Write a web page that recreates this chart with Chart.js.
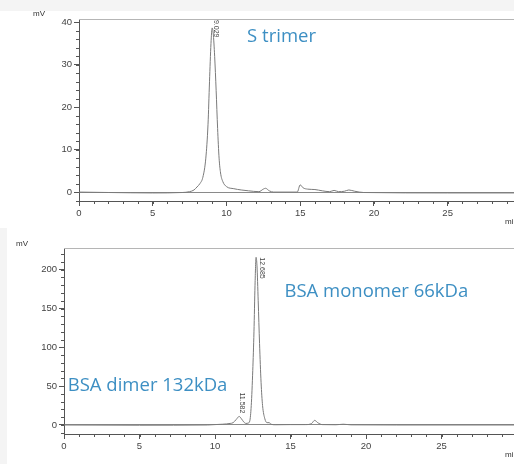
<!DOCTYPE html>
<html>
<head>
<meta charset="utf-8">
<script src="https://cdn.jsdelivr.net/npm/chart.js@4.4.1/dist/chart.umd.min.js"></script>
<style>
  html, body { margin: 0; padding: 0; background: #fff; }
  #wrap { position: relative; width: 514px; height: 464px; overflow: hidden; background: #fff; }
  #topStrip { position: absolute; left: 0; top: 0; width: 514px; height: 11px; background: #f4f4f4; }
  #leftStrip { position: absolute; left: 0; top: 228px; width: 7px; height: 236px; background: #f4f4f4; }
  canvas { position: absolute; left: 0; }
  #c1 { top: 0; }
  #c2 { top: 232px; }
</style>
</head>
<body>
<div id="wrap">
  <div id="topStrip"></div>
  <div id="leftStrip"></div>
  <canvas id="c1" width="514" height="232"></canvas>
  <canvas id="c2" width="514" height="232"></canvas>
</div>
<script>
// S trimer run (min, mV)
const trimerTime = [0, 2, 5, 7, 7.5, 7.8, 8.0, 8.2, 8.4, 8.6, 8.75, 8.85, 8.95, 9.03, 9.1, 9.2, 9.3, 9.4, 9.5, 9.6, 9.75, 10.0, 10.5, 11.0, 11.5, 12.2, 12.5, 12.65, 12.9, 13.2, 14.8, 15.0, 15.2, 15.5, 16.0, 16.5, 17.0, 17.3, 17.6, 18.0, 18.3, 18.7, 19.3, 25, 29.5];
const trimerSignal = [0, -0.1, -0.2, -0.1, 0.1, 0.5, 1.2, 2.0, 3.5, 8, 16, 26, 35, 38.7, 37.5, 32, 24, 15, 8, 4.5, 2.5, 1.3, 0.8, 0.5, 0.3, 0.1, 0.7, 0.9, 0.3, 0, 0, 1.7, 1.0, 0.7, 0.6, 0.3, 0.1, 0.4, 0.1, 0.2, 0.5, 0.2, -0.1, -0.2, -0.2];

// BSA run (min, mV)
const bsaTime = [0, 5, 9.5, 10.0, 10.5, 11.0, 11.2, 11.4, 11.6, 11.75, 11.9, 12.05, 12.2, 12.3, 12.4, 12.5, 12.58, 12.65, 12.72, 12.78, 12.86, 12.95, 13.05, 13.15, 13.3, 13.45, 13.6, 13.7, 14.0, 15.0, 16.0, 16.4, 16.6, 16.8, 17.1, 18.0, 18.5, 19.0, 22, 29.8];
const bsaSignal = [0, -0.3, 0, 0.5, 1.0, 2.0, 3, 7, 11, 8, 4, 2, 2.5, 5, 25, 70, 120, 180, 216, 205, 160, 105, 55, 25, 8, 3, 3, 1, 0.3, 0.5, 0.5, 2, 6, 3, 0.5, 0.3, 1, 0.2, 0, 0];

const trimerYTicks = [0, 10, 20, 30, 40];
const bsaYTicks = [0, 50, 100, 150, 200];
const xTicks = [0, 5, 10, 15, 20, 25];

const trimerPeaks = [{ t: 9.029, v: 38.7, text: '9.029', dx: 4, dy: -8 }];
const bsaPeaks = [
  { t: 11.582, v: 11, text: '11.582', dx: 3, dy: -24 },
  { t: 12.685, v: 216, text: '12.685', dx: 6, dy: 0 }
];
const trimerNotes = [{ t: 11.4, v: 36.6, text: 'S trimer' }];
const bsaNotes = [
  { t: 14.6, v: 172, text: 'BSA monomer 66kDa' },
  { t: 0.25, v: 51, text: 'BSA dimer 132kDa' }
];

const noteColor = '#3d8fc3';
const axisColor = '#555';

const extras = {
  id: 'extras',
  afterDraw(chart, args, o) {
    const { ctx, chartArea: a, scales: { x, y } } = chart;
    ctx.save();
    // top frame line
    ctx.strokeStyle = '#b5b5b5';
    ctx.lineWidth = 1;
    ctx.beginPath();
    ctx.moveTo(a.left, a.top + 0.5);
    ctx.lineTo(a.right, a.top + 0.5);
    ctx.stroke();
    // minor ticks
    ctx.strokeStyle = axisColor;
    ctx.beginPath();
    for (let t = 0; t <= x.max; t += o.minorX) {
      const px = Math.round(x.getPixelForValue(t)) + 0.5;
      ctx.moveTo(px, a.bottom);
      ctx.lineTo(px, a.bottom + 3);
    }
    for (let v = Math.ceil(y.min / o.minorY) * o.minorY; v <= y.max; v += o.minorY) {
      const py = Math.round(y.getPixelForValue(v)) + 0.5;
      ctx.moveTo(a.left, py);
      ctx.lineTo(a.left - 3, py);
    }
    ctx.stroke();
    // unit labels
    ctx.fillStyle = '#333';
    ctx.font = '8px "Liberation Sans", Arial, sans-serif';
    ctx.textBaseline = 'middle';
    ctx.textAlign = 'left';
    ctx.fillText('mV', o.mvX, o.mvY);
    ctx.fillText('min', 505, a.bottom + 21);
    // peak retention time labels
    ctx.font = '7px "Liberation Sans", Arial, sans-serif';
    ctx.fillStyle = '#444';
    o.peaks.forEach(p => {
      ctx.save();
      ctx.translate(x.getPixelForValue(p.t) + p.dx, y.getPixelForValue(p.v) + p.dy);
      ctx.rotate(Math.PI / 2);
      ctx.fillText(p.text, 0, 0);
      ctx.restore();
    });
    // annotations
    ctx.font = '18.5px "Open Sans", sans-serif';
    ctx.fillStyle = noteColor;
    o.notes.forEach(n => {
      ctx.fillText(n.text, x.getPixelForValue(n.t), y.getPixelForValue(n.v));
    });
    ctx.restore();
  }
};

function makeChart(id, times, values, cfg) {
  return new Chart(document.getElementById(id), {
    type: 'line',
    data: {
      datasets: [{
        data: times.map((t, i) => ({ x: t, y: values[i] })),
        borderColor: '#7a7a7a',
        borderWidth: 1,
        pointRadius: 0,
        cubicInterpolationMode: 'monotone',
        fill: false
      }]
    },
    options: {
      responsive: false,
      animation: false,
      layout: { padding: { top: cfg.top, right: 0, left: 0, bottom: 0 } },
      plugins: {
        legend: { display: false },
        tooltip: { enabled: false },
        extras: cfg.extras
      },
      scales: {
        x: {
          type: 'linear',
          min: 0,
          max: cfg.xMax,
          afterFit: s => { s.height = cfg.xHeight; },
          afterBuildTicks: s => { s.ticks = xTicks.map(v => ({ value: v })); },
          border: { color: axisColor, width: 1 },
          grid: { drawOnChartArea: false, tickLength: 5, tickColor: axisColor },
          ticks: {
            color: '#444',
            padding: 2,
            maxRotation: 0,
            font: { family: '"Liberation Sans", Arial, sans-serif', size: 9.5 }
          }
        },
        y: {
          min: cfg.yMin,
          max: cfg.yMax,
          afterFit: s => { s.width = cfg.yWidth; },
          afterBuildTicks: s => { s.ticks = cfg.yTicks.map(v => ({ value: v })); },
          border: { color: axisColor, width: 1 },
          grid: {
            color: c => (c.tick && c.tick.value === 0 ? '#8a8a8a' : 'rgba(0,0,0,0)'),
            tickLength: 5,
            tickColor: axisColor
          },
          ticks: {
            color: '#444',
            padding: 2,
            font: { family: '"Liberation Sans", Arial, sans-serif', size: 9.5 }
          }
        }
      }
    },
    plugins: [extras]
  });
}

makeChart('c1', trimerTime, trimerSignal, {
  top: 19, xMax: 29.5, xHeight: 31, yWidth: 79, yMin: -2.1, yMax: 40.8, yTicks: trimerYTicks,
  extras: { minorX: 1, minorY: 2, peaks: trimerPeaks, notes: trimerNotes, mvX: 33, mvY: 14 }
});

makeChart('c2', bsaTime, bsaSignal, {
  top: 16, xMax: 29.8, xHeight: 30, yWidth: 64, yMin: -11.6, yMax: 228, yTicks: bsaYTicks,
  extras: { minorX: 1, minorY: 10, peaks: bsaPeaks, notes: bsaNotes, mvX: 16, mvY: 12 }
});
</script>
</body>
</html>
